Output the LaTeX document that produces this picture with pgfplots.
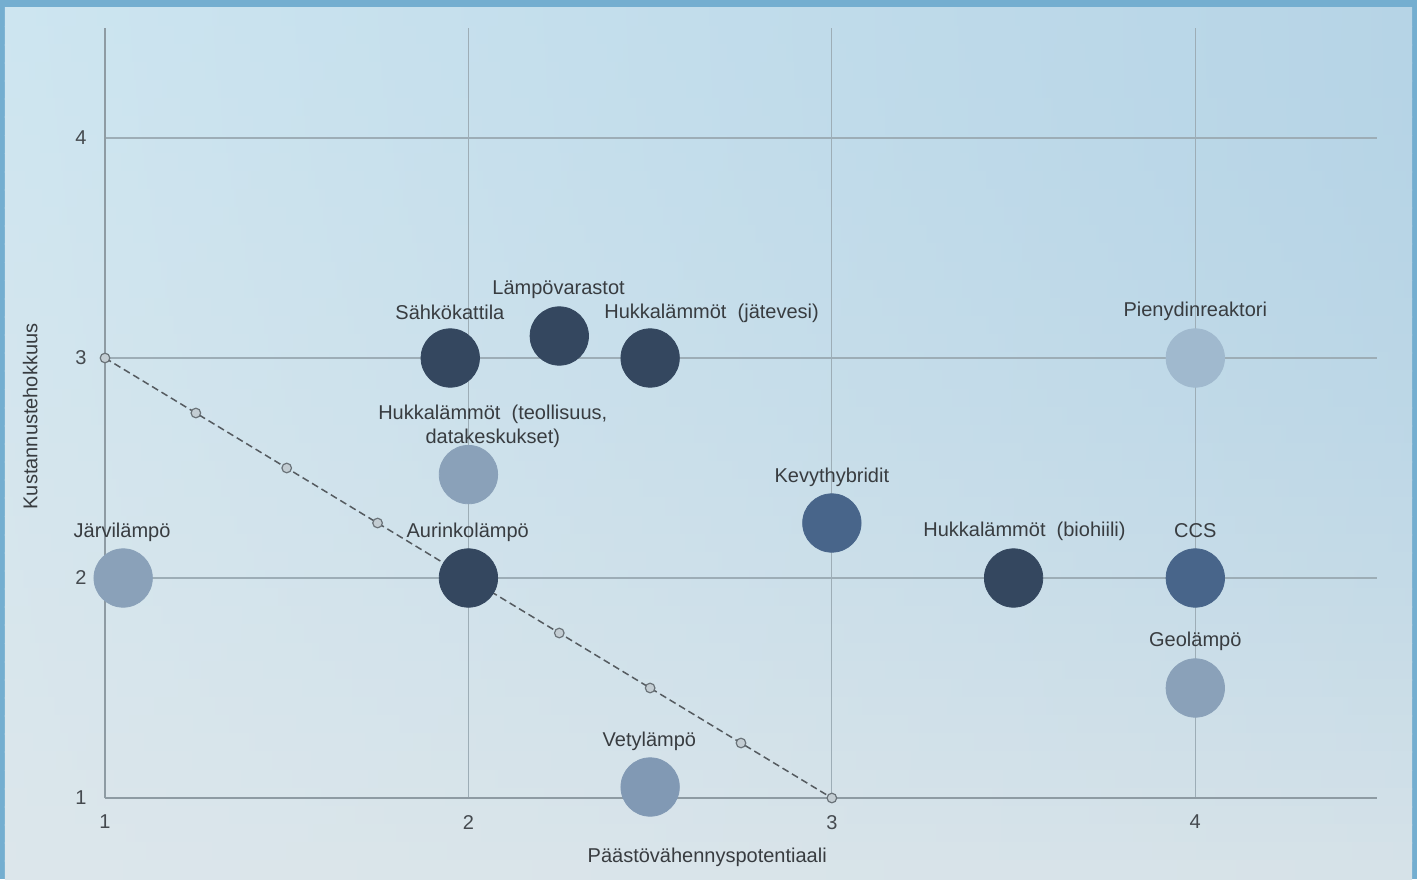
\documentclass[border=0pt]{standalone}
\usepackage{pgfplots}
\pgfplotsset{compat=1.18}
\usepackage{fontspec}
\setmainfont{Liberation Sans}
\definecolor{frameblue}{HTML}{74AED0}
\definecolor{bgTL}{HTML}{CDE5F0}
\definecolor{bgTR}{HTML}{B6D4E6}
\definecolor{bgBL}{HTML}{DCE6EB}
\definecolor{bgBR}{HTML}{D6E2E8}
\definecolor{gridcol}{HTML}{9DADB6}
\definecolor{axiscol}{HTML}{8E9BA3}
\definecolor{tickcol}{HTML}{454A4F}
\definecolor{labcol}{HTML}{383C40}
\definecolor{dashcol}{HTML}{555B60}
\definecolor{mkfill}{HTML}{C3CDD3}
\definecolor{mkdraw}{HTML}{6A7379}
\definecolor{cdark}{HTML}{34475F}
\definecolor{cmid}{HTML}{48658A}
\definecolor{cgrey}{HTML}{8AA1B9}
\definecolor{cvety}{HTML}{8199B4}
\definecolor{cpien}{HTML}{A0B9CE}
\begin{document}
\begin{tikzpicture}[x=1pt,y=1pt]
% background frame and sky
\fill[frameblue] (-52.5,-40.5) rectangle (656,399);
\foreach \i in {0,...,47}{
  \pgfmathsetmacro\ytop{395-\i*9.0729}
  \pgfmathsetmacro\ybot{\ytop-9.4729}
  \pgfmathtruncatemacro\pl{\i*2.1277}
  \pgfmathtruncatemacro\pr{\i*\i*0.04527}
  \colorlet{Lc}{bgBL!\pl!bgTL}
  \colorlet{Rc}{bgBR!\pr!bgTR}
  \shade[left color=Lc, right color=Rc] (-50,\ybot) rectangle (653.5,\ytop);
}
\begin{axis}[
  at={(0,0)}, anchor=south west,
  scale only axis, width=636pt, height=385pt,
  xmin=1, xmax=4.5, ymin=1, ymax=4.5,
  axis lines=left,
  axis line style={-, draw=axiscol, line width=0.8pt},
  xtick={1,2,3,4}, ytick={1,2,3,4},
  grid=major,
  grid style={draw=gridcol, line width=0.6pt},
  major tick length=0pt,
  tick label style={font=\fontsize{10}{12}\selectfont, text=tickcol},
  /pgf/number format/assume math mode=true,
  xticklabel style={yshift=-5pt},
  yticklabel style={xshift=-5.7pt},
  clip=false,
]
% dashed reference line
\addplot[draw=dashcol, line width=0.75pt, dash pattern=on 3.5pt off 2pt,
  mark=*, mark size=2.4pt, mark options={solid, fill=mkfill, draw=mkdraw, line width=0.6pt}]
  coordinates {(1,3) (1.25,2.75) (1.5,2.5) (1.75,2.25) (2,2) (2.25,1.75) (2.5,1.5) (2.75,1.25) (3,1)};
% bubbles
\addplot[only marks, mark=*, mark size=14.6pt, color=cdark]
  coordinates {(1.95,3) (2.25,3.1) (2.5,3) (2,2) (3.5,2)};
\addplot[only marks, mark=*, mark size=14.6pt, color=cmid]
  coordinates {(3,2.25) (4,2)};
\addplot[only marks, mark=*, mark size=14.6pt, color=cgrey]
  coordinates {(1.05,2) (2,2.47) (4,1.5)};
\addplot[only marks, mark=*, mark size=14.6pt, color=cvety]
  coordinates {(2.5,1.05)};
\addplot[only marks, mark=*, mark size=14.6pt, color=cpien]
  coordinates {(4,3)};
% labels
\begin{scope}[every node/.style={font=\fontsize{10}{12}\selectfont, text=labcol, inner sep=0pt}]
\node at (axis cs:1.949,3.209) {Sähkökattila};
\node at (axis cs:2.248,3.309) {Lämpövarastot};
\node at (axis cs:2.669,3.205) {Hukkalämmöt\ \ (jätevesi)};
\node at (axis cs:4,3.214) {Pienydinreaktori};
\node[align=center] at (axis cs:2.067,2.691) {Hukkalämmöt\ \ (teollisuus,\\datakeskukset)};
\node at (axis cs:3,2.459) {Kevythybridit};
\node at (axis cs:1.047,2.209) {Järvilämpö};
\node at (axis cs:1.998,2.209) {Aurinkolämpö};
\node at (axis cs:3.53,2.214) {Hukkalämmöt\ \ (biohiili)};
\node at (axis cs:4,2.214) {CCS};
\node at (axis cs:4,1.714) {Geolämpö};
\node at (axis cs:2.498,1.259) {Vetylämpö};
\node at (axis cs:2.657,0.732) {Päästövähennyspotentiaali};
\node[rotate=90] at (axis cs:0.794,2.734) {Kustannustehokkuus};
\end{scope}
\end{axis}
\pgfresetboundingbox
\useasboundingbox (-52.5,-40.5) rectangle (656,399);
\end{tikzpicture}
\end{document}
